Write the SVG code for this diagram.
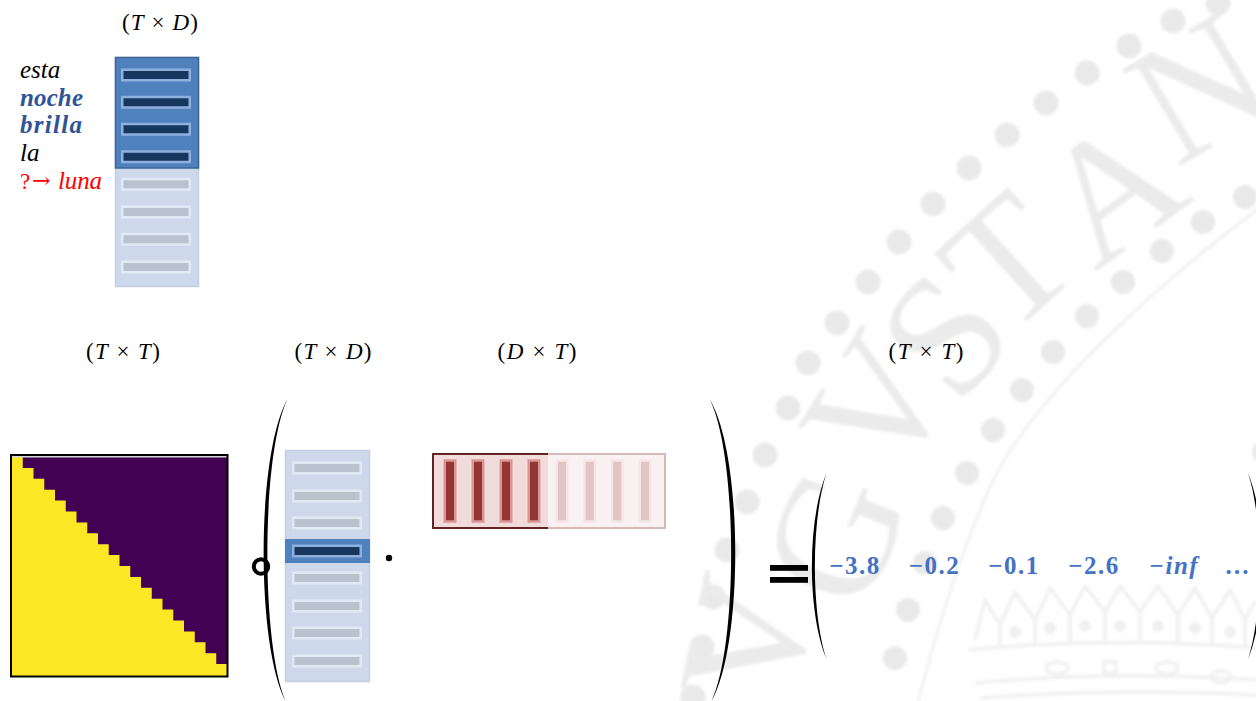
<svg xmlns="http://www.w3.org/2000/svg" width="1256" height="701" viewBox="0 0 1256 701">
<defs>
<filter id="soft" x="-5%" y="-5%" width="110%" height="110%"><feGaussianBlur stdDeviation="1.5"/></filter>
<style>
.lbl{font-family:"Liberation Serif",serif;font-size:23px;fill:#000}
.it{font-style:italic}
.word{font-family:"Liberation Serif",serif;font-size:25px;font-style:italic}
.blue{fill:#2f5597;font-weight:bold}
.num{font-family:"Liberation Serif",serif;font-size:25px;font-weight:bold;fill:#4472c4;text-anchor:middle;letter-spacing:1.5px}
.wm{font-family:"Liberation Serif",serif;font-size:172px;fill:#ebebeb;text-anchor:middle}
.dot{fill:#e9e9e9}
.barD{fill:#17375e;stroke:#8eb0dd;stroke-width:2.5}
.barL{fill:#b9c3d0;stroke:#e1e9f5;stroke-width:2.5}
.rbarD{fill:#943634;stroke:#d99694;stroke-width:2.5}
.rbarL{fill:#e2c4c4;stroke:#f4e6e6;stroke-width:2.5}
</style>
</defs>
<rect width="1256" height="701" fill="#ffffff"/>

<g id="watermark" filter="url(#soft)">
<g class="dot">
<circle cx="1218" cy="3" r="12.5"/><circle cx="1173" cy="21" r="12.5"/><circle cx="1129" cy="46" r="12.5"/><circle cx="1087" cy="73" r="12.5"/><circle cx="1046" cy="103" r="12.5"/><circle cx="1007" cy="135" r="12.5"/><circle cx="969" cy="168" r="12.5"/><circle cx="933" cy="204" r="12.5"/><circle cx="899" cy="242" r="12.5"/><circle cx="868" cy="282" r="12.5"/><circle cx="837" cy="323" r="12.5"/><circle cx="808" cy="363" r="12.5"/><circle cx="788" cy="408" r="12.5"/><circle cx="765" cy="455" r="12.5"/><circle cx="747" cy="502" r="12.5"/><circle cx="727" cy="550" r="12.5"/><circle cx="713" cy="597" r="12.5"/><circle cx="702" cy="647" r="12.5"/><circle cx="693" cy="697" r="12.5"/>
<circle cx="1245" cy="197" r="12"/><circle cx="1203" cy="222" r="12"/><circle cx="1162" cy="251" r="12"/><circle cx="1123" cy="282" r="12"/><circle cx="1087" cy="316" r="12"/><circle cx="1053" cy="352" r="12"/><circle cx="1022" cy="390" r="12"/><circle cx="993" cy="430" r="12"/><circle cx="967" cy="473" r="12"/><circle cx="943" cy="518" r="12"/><circle cx="925" cy="563" r="12"/><circle cx="908" cy="610" r="12"/><circle cx="895" cy="658" r="12"/>
<circle cx="1264" cy="452" r="12"/>
</g>
<path d="M1262,206 C1150,290 1030,400 990,487 C975,520 950,580 918,701" fill="none" stroke="#f1f1f1" stroke-width="3"/>
<text class="wm" transform="translate(748,640) rotate(-78)" dy="0.33em">V</text>
<text class="wm" transform="translate(835,537) rotate(-68)" dy="0.33em">G</text>
<text class="wm" transform="translate(877,405) rotate(-58)" dy="0.33em">V</text>
<text class="wm" transform="translate(945,335) rotate(-50)" dy="0.33em">S</text>
<text class="wm" transform="translate(1008,262) rotate(-42)" dy="0.33em">T</text>
<text class="wm" transform="translate(1112,190) rotate(-36)" dy="0.33em">A</text>
<text class="wm" transform="translate(1200,88) rotate(-31)" dy="0.33em">N</text>
<g id="crown" fill="none" stroke="#f0f0f0" stroke-width="3.5">
<path d="M968,650 Q1110,636 1258,648"/>
<path d="M975,683 Q1110,670 1258,680"/>
<path d="M980,698 Q1110,688 1258,695"/>
<ellipse cx="1057" cy="668" rx="11" ry="6"/>
<rect x="1104" y="662" width="12" height="11"/>
<ellipse cx="1167" cy="668" rx="11" ry="6"/>
<ellipse cx="1221" cy="677" rx="10" ry="6"/>
<path d="M975,640 L985,600 L1000,625 L1015,592 L1035,620 L1050,588 L1070,615 L1085,586 L1105,612 L1120,586 L1140,612 L1158,586 L1178,615 L1195,588 L1212,618 L1230,590 L1245,620 L1256,600"/>
<path d="M1000,645 L1000,625 M1035,645 L1035,620 M1070,642 L1070,615 M1105,640 L1105,612 M1140,640 L1140,612 M1178,642 L1178,615 M1212,645 L1212,618 M1245,647 L1245,620"/>
</g>
<g fill="#f0f0f0">
<circle cx="1015" cy="632" r="6"/><circle cx="1050" cy="628" r="6"/><circle cx="1085" cy="626" r="6"/><circle cx="1120" cy="626" r="6"/><circle cx="1158" cy="626" r="6"/><circle cx="1195" cy="628" r="6"/><circle cx="1230" cy="632" r="6"/>
</g>
</g>

<g id="connectors"></g>

<g id="words">
<text class="word" x="20" y="78" fill="#000">esta</text>
<text class="word blue" x="20" y="106" textLength="63">noche</text>
<text class="word blue" x="20" y="133" textLength="62">brilla</text>
<text class="word" x="20" y="161" fill="#000">la</text>
<text x="20" y="189" fill="#ff0000" style="font-family:'Liberation Serif',serif;font-size:23px">?</text>
<text x="32" y="188" fill="#ff0000" style="font-family:'DejaVu Serif',serif;font-size:22px">→</text>
<text class="word" x="58" y="189" fill="#ff0000" textLength="44">luna</text>
</g>

<g id="label-top"><text class="lbl" x="160" y="30" text-anchor="middle" textLength="76">(<tspan class="it">T</tspan> × <tspan class="it">D</tspan>)</text></g>

<g id="seq-matrix">
<rect x="115.5" y="57.5" width="83" height="229" fill="#cdd9ea" stroke="#c3cfe0" stroke-width="1.5"/>
<rect x="115.5" y="57.5" width="83" height="110.5" fill="#4f81bd" stroke="#3c6697" stroke-width="1.5"/>
<rect class="barD" x="122.25" y="69.75" width="67.5" height="10.5"/>
<rect class="barD" x="122.25" y="97" width="67.5" height="10.5"/>
<rect class="barD" x="122.25" y="124" width="67.5" height="10.5"/>
<rect class="barD" x="122.25" y="151.5" width="67.5" height="10.5"/>
<rect class="barL" x="122.25" y="179" width="67.5" height="10.5"/>
<rect class="barL" x="122.25" y="206.75" width="67.5" height="10.5"/>
<rect class="barL" x="122.25" y="234" width="67.5" height="10.5"/>
<rect class="barL" x="122.25" y="261.75" width="67.5" height="10.5"/>
</g>

<g id="labels-row">
<text class="lbl" x="123" y="359" text-anchor="middle" textLength="74">(<tspan class="it">T</tspan> × <tspan class="it">T</tspan>)</text>
<text class="lbl" x="333" y="359" text-anchor="middle" textLength="77">(<tspan class="it">T</tspan> × <tspan class="it">D</tspan>)</text>
<text class="lbl" x="537" y="359" text-anchor="middle" textLength="79">(<tspan class="it">D</tspan> × <tspan class="it">T</tspan>)</text>
<text class="lbl" x="926" y="359" text-anchor="middle" textLength="75">(<tspan class="it">T</tspan> × <tspan class="it">T</tspan>)</text>
</g>

<g id="mask-matrix">
<rect x="12" y="456" width="215" height="220" fill="#440154"/>
<path fill="#fde725" d="M12,457 H22.75 V467.9 H33.5 V478.8 H44.25 V489.7 H55 V500.6 H65.75 V511.5 H76.5 V522.4 H87.25 V533.3 H98 V544.2 H108.75 V555.1 H119.5 V566 H130.25 V576.9 H141 V587.8 H151.75 V598.7 H162.5 V609.6 H173.25 V620.5 H184 V631.4 H194.75 V642.3 H205.5 V653.2 H216.25 V664.1 H227 V676 H12 Z"/>
<line x1="12" y1="456.5" x2="227" y2="456.5" stroke="#d8d8d8" stroke-width="2"/>
<rect x="11" y="455" width="216.5" height="221.5" fill="none" stroke="#000" stroke-width="2"/>
</g>

<g id="operators">
<circle cx="261" cy="566.5" r="7.2" fill="none" stroke="#000" stroke-width="4"/>
<path d="M287.5,399 C256,455 256,645 285.5,701 C261,645 261,455 287.5,399 Z" fill="#000"/>
<circle cx="389" cy="558" r="3.2" fill="#000"/>
<path d="M709.5,399 C743.5,455 743.5,645 711.5,701 C738,645 738,455 709.5,399 Z" fill="#000"/>
<rect x="770" y="565" width="38" height="5.8" fill="#000"/>
<rect x="770" y="577" width="38" height="5.8" fill="#000"/>
</g>

<g id="query-vector">
<rect x="285.5" y="450.5" width="84" height="231" fill="#cdd9ea" stroke="#c3cfe0" stroke-width="1.5"/>
<rect x="285" y="539" width="85" height="24" fill="#4f81bd"/>
<rect class="barL" x="293.25" y="462.75" width="67.5" height="10.5"/>
<rect class="barL" x="293.25" y="490.75" width="67.5" height="10.5"/>
<rect class="barL" x="293.25" y="517.75" width="67.5" height="10.5"/>
<rect class="barD" x="293.25" y="545.75" width="67.5" height="10.5"/>
<rect class="barL" x="293.25" y="572.75" width="67.5" height="10.5"/>
<rect class="barL" x="293.25" y="600.75" width="67.5" height="10.5"/>
<rect class="barL" x="293.25" y="627.75" width="67.5" height="10.5"/>
<rect class="barL" x="293.25" y="655.75" width="67.5" height="10.5"/>
</g>

<g id="key-matrix">
<rect x="433" y="454" width="232" height="74" fill="#faf2f2" stroke="#d6b8b7" stroke-width="2"/>
<rect x="433" y="454" width="115" height="74" fill="#f2dcdb"/>
<path d="M548,454 H433 V528 H548" fill="none" stroke="#632523" stroke-width="2"/>
<rect class="rbarD" x="444.75" y="460.5" width="10.5" height="61"/>
<rect class="rbarD" x="472.75" y="460.5" width="10.5" height="61"/>
<rect class="rbarD" x="500.75" y="460.5" width="10.5" height="61"/>
<rect class="rbarD" x="528.75" y="460.5" width="10.5" height="61"/>
<rect class="rbarL" x="556.75" y="460.5" width="10.5" height="61"/>
<rect class="rbarL" x="584.5" y="460.5" width="10.5" height="61"/>
<rect class="rbarL" x="612" y="460.5" width="10.5" height="61"/>
<rect class="rbarL" x="639.75" y="460.5" width="10.5" height="61"/>
</g>

<g id="result-vector">
<path d="M826.5,473 C807,520 807,612 826.5,659 C811,612 811,520 826.5,473 Z" fill="#000"/>
<path d="M1248,473 C1267.5,520 1267.5,612 1248,659 C1263.5,612 1263.5,520 1248,473 Z" fill="#000"/>
<text class="num" x="855" y="574">−3.8</text>
<text class="num" x="934.5" y="574">−0.2</text>
<text class="num" x="1014" y="574">−0.1</text>
<text class="num" x="1094" y="574">−2.6</text>
<text class="num" x="1174" y="574" font-style="italic">−inf</text>
<text class="num" x="1237" y="574" style="letter-spacing:0">…</text>
</g>
</svg>
